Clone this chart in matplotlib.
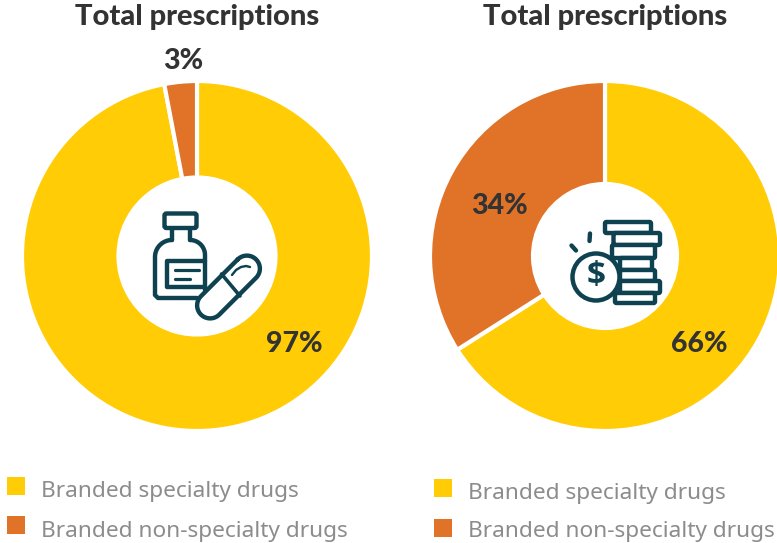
import numpy as np
import matplotlib
matplotlib.use('Agg')
import matplotlib.pyplot as plt
from matplotlib.patches import Circle, FancyBboxPatch, Rectangle

plt.rcParams['font.family'] = ['Noto Sans', 'DejaVu Sans']

categories = ['Branded specialty drugs', 'Branded non-specialty drugs']
titles = ['Total prescriptions', 'Total prescriptions']
volume_share = [97, 3]
spend_share = [66, 34]

YELLOW = '#FFCC05'
ORANGE = '#E07327'
DARK = '#0E4250'
TEXT = '#333333'
GREY = '#8C8C8C'

W, H = 777, 543
fig = plt.figure(figsize=(W / 100, H / 100), dpi=100)

# overlay in pixel units, y pointing down, for text and icons
px = fig.add_axes([0, 0, 1, 1], zorder=3)
px.set_xlim(0, W)
px.set_ylim(H, 0)
px.axis('off')


def donut(values, cx, cy, r_out, r_in):
    ax = fig.add_axes([(cx - r_out) / W, 1 - (cy + r_out) / H, 2 * r_out / W, 2 * r_out / H])
    ax.pie(values, colors=[YELLOW, ORANGE], startangle=90, counterclock=False, radius=1,
           wedgeprops={'width': 1 - r_in / r_out, 'edgecolor': 'white', 'linewidth': 3})
    ax.set_xlim(-1, 1)
    ax.set_ylim(-1, 1)
    ax.set_aspect('equal')
    return ax


def rbox(x0, y0, x1, y1, rad=2.0, lw=4.4, fc='white', z=1):
    px.add_patch(FancyBboxPatch((x0 + rad, y0 + rad), x1 - x0 - 2 * rad, y1 - y0 - 2 * rad,
                                boxstyle='round,pad=%g,rounding_size=%g' % (rad, rad),
                                fc=fc, ec=DARK, lw=lw * 0.72, zorder=z))


def stroke(xs, ys, lw=4.4, z=5):
    px.plot(xs, ys, color=DARK, lw=lw * 0.72, solid_capstyle='round', solid_joinstyle='round', zorder=z)


def bottle_icon():
    rbox(164.5, 213.5, 196.5, 228)
    stroke([172, 172], [229, 240])
    stroke([190, 190], [229, 240])
    # body with rounded shoulders
    t = np.linspace(0, np.pi / 2, 20)
    left_x = 172 - 17 * np.sin(t)
    left_y = 240 + 17 * (1 - np.cos(t))
    right_x = 190 + 15 * np.sin(t)
    right_y = 240 + 15 * (1 - np.cos(t))
    stroke(np.r_[left_x, 155, 155, 158, 197],
           np.r_[left_y, 257, 295, 298, 298], z=2)
    stroke(np.r_[right_x, 205], np.r_[right_y, 290], z=2)
    # label
    stroke([205, 167, 167, 205], [260.5, 260.5, 287, 287], z=2)
    stroke([175, 199], [269.5, 269.5], lw=3.2)
    stroke([175, 190], [279, 279], lw=3.2)
    # capsule
    c = np.array([228.5, 287.0])
    d = np.array([1, -1]) / np.sqrt(2)
    n = np.array([1, 1]) / np.sqrt(2)
    half, r = 26, 13
    a = np.linspace(-np.pi / 2, np.pi / 2, 30)
    end1 = [c + d * half + r * (np.cos(v) * d + np.sin(v) * n) for v in a]
    end2 = [c - d * half - r * (np.cos(v) * d + np.sin(v) * n) for v in a]
    outline = np.array(end1 + end2 + end1[:1])
    px.fill(outline[:, 0], outline[:, 1], color='white', zorder=3)
    stroke(outline[:, 0], outline[:, 1], z=4)
    stroke([221.5, 240], [274, 296], lw=3.6)
    hx = [232, 236, 241, 246, 250]
    hy = [275, 270, 267, 266, 267]
    stroke(hx, hy, lw=2.4)


def coins_icon():
    stacks = [(605, 222, 651, 233), (613.5, 233, 660, 245), (612, 245, 655, 258),
              (620, 258, 652, 270), (620, 270, 655, 281), (620, 281, 660, 293),
              (615, 293, 655, 303)]
    for x0, y0, x1, y1 in stacks:
        rbox(x0, y0, x1, y1, rad=1.5)
    px.add_patch(Circle((596, 277), 23.5, fc='white', ec=DARK, lw=3.2, zorder=3))
    px.text(596, 276, '$', color=DARK, fontsize=24, fontweight='bold', family='Open Sans',
            ha='center', va='center', zorder=6)
    stroke([571.5, 576], [245.5, 250.5])
    stroke([590, 589.5], [233.5, 241])


donut(volume_share, 197, 256, 175, 78.5)
donut(spend_share, 605, 256, 175, 72)
bottle_icon()
coins_icon()

# titles
for x, title in zip([197, 605], titles):
    px.text(x, 17, title, fontsize=21, fontweight='black', family='Lato', color=TEXT,
            ha='center', va='center')

# value labels
label_spots = [(183, 61), (294, 344), (499, 206), (699, 344)]
label_values = [volume_share[1], volume_share[0], spend_share[1], spend_share[0]]
for (x, y), v in zip(label_spots, label_values):
    px.text(x, y, '%d%%' % v, fontsize=20.5, fontweight='black', family='Lato', color=TEXT,
            ha='center', va='center')

# legends
legend_rows = [(7, 41, 477, 492), (7, 41, 516, 531), (434, 468, 479, 494), (434, 468, 519, 532)]
for i, (sx, tx, sy, ty) in enumerate(legend_rows):
    px.add_patch(Rectangle((sx, sy), 18, 18, fc=[YELLOW, ORANGE][i % 2], ec='none'))
    px.text(tx, ty, categories[i % 2], fontsize=16.3, color=GREY, ha='left', va='center')

fig.savefig('out.png', dpi=100)
